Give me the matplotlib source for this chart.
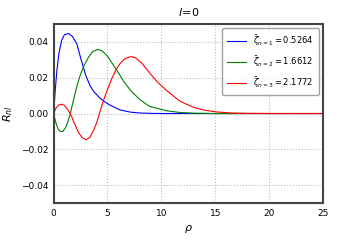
import numpy as np
import matplotlib
matplotlib.use('Agg')
import matplotlib.pyplot as plt

# values
rho_1 = [0, 0.15, 0.3, 0.5, 0.75, 1.0, 1.37, 1.75, 2.15, 2.6, 3.0, 3.38, 3.7,
         4.3, 4.75, 5.23, 6.16, 7.1, 8.0, 9.0, 10.0, 25]
R_1 = [0, 0.013, 0.024, 0.034, 0.041, 0.044, 0.0447, 0.043, 0.039, 0.029, 0.021,
       0.0155, 0.0125, 0.0086, 0.0065, 0.0047, 0.002, 0.0008, 0.0003, 0.0001, 0, 0]

rho_2 = [0, 0.2, 0.4, 0.6, 0.85, 1.1, 1.3, 1.55, 1.8, 2.15, 2.5, 2.8, 3.2, 3.6,
         4.1, 4.5, 5.0, 5.5, 5.85, 6.5, 7.0, 7.4, 8.0, 8.9, 10.5, 11.7, 13.0, 15.0, 25]
R_2 = [0, -0.005, -0.0085, -0.01, -0.01, -0.008, -0.005, 0.0, 0.0065, 0.015, 0.022,
       0.0265, 0.031, 0.0345, 0.0358, 0.035, 0.032, 0.0275, 0.0243, 0.018, 0.014,
       0.0113, 0.0078, 0.004, 0.0015, 0.0006, 0.0002, 0, 0]

rho_3 = [0, 0.2, 0.45, 0.75, 1.0, 1.3, 1.55, 1.9, 2.3, 2.65, 3.0, 3.35, 3.7, 4.0,
         4.25, 4.6, 5.0, 5.4, 5.8, 6.2, 6.6, 7.15, 7.6, 8.2, 8.9, 9.6, 10.5, 11.7,
         12.3, 13.0, 13.9, 15.1, 16.5, 18.0, 20.0, 25]
R_3 = [0, 0.0028, 0.0047, 0.0052, 0.0045, 0.0022, 0.0, -0.005, -0.0105, -0.0135,
       -0.0146, -0.0135, -0.0095, -0.005, 0.0, 0.0067, 0.0135, 0.0195, 0.0245,
       0.0282, 0.0306, 0.0318, 0.0312, 0.028, 0.0228, 0.0178, 0.0128, 0.007,
       0.0053, 0.0035, 0.002, 0.0009, 0.0003, 0.0001, 0, 0]

labels = [r'$\bar{\zeta}_{n=1}=0.5264$',
          r'$\bar{\zeta}_{n=2}=1.6612$',
          r'$\bar{\zeta}_{n=3}=2.1772$']
colors = ['blue', 'green', 'red']

fig = plt.figure(figsize=(3.6, 2.4), dpi=100)
ax = fig.add_axes([0.149, 0.154, 0.748, 0.746])

for rho, R, lab, c in zip([rho_1, rho_2, rho_3], [R_1, R_2, R_3], labels, colors):
    ax.plot(rho, R, color=c, lw=0.8, label=lab)

ax.set_xlim(0, 25)
ax.set_ylim(-0.05, 0.05)
ax.set_xticks([0, 5, 10, 15, 20, 25])
ax.set_yticks([-0.04, -0.02, 0.0, 0.02, 0.04])
ax.set_yticklabels(['\u22120.04', '\u22120.02', '0.00', '0.02', '0.04'])
ax.grid(True, linestyle=':', color='#bbbbbb', lw=0.8)
ax.tick_params(length=0, labelsize=6.5, pad=4)
for s in ax.spines.values():
    s.set_color('#444444')
    s.set_linewidth(1.5)

ax.set_title(r'$l\!=\!0$', fontsize=8)
ax.set_xlabel(r'$\rho$', fontsize=8)
ax.set_ylabel(r'$R_{nl}$', fontsize=8)
ax.legend(loc='upper right', fontsize=6, handlelength=2.3, borderpad=0.6,
          labelspacing=0.75, edgecolor='#888888', fancybox=True)

fig.savefig('out.png', dpi=100)
